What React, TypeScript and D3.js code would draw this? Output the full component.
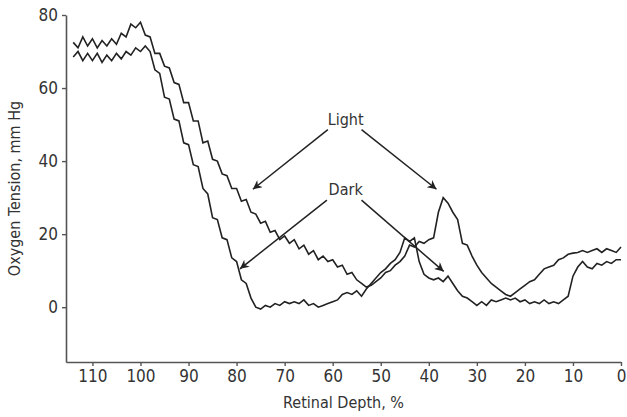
import { useEffect, useRef } from 'react';
import * as d3 from 'd3';

const width = 627;
const height = 417;
const margin = { top: 15, right: 6, bottom: 55, left: 66 };

// retinal depth, % (one sample per percent)
const depth = [
  114, 113, 112, 111, 110, 109, 108, 107, 106, 105, 104, 103, 102, 101, 100,
  99, 98, 97, 96, 95, 94, 93, 92, 91, 90, 89, 88, 87, 86, 85, 84, 83, 82, 81, 80,
  79, 78, 77, 76, 75, 74, 73, 72, 71, 70, 69, 68, 67, 66, 65, 64, 63, 62, 61, 60,
  59, 58, 57, 56, 55, 54, 53, 52, 51, 50, 49, 48, 47, 46, 45, 44, 43, 42, 41, 40,
  39, 38, 37, 36, 35, 34, 33, 32, 31, 30, 29, 28, 27, 26, 25, 24, 23, 22, 21, 20,
  19, 18, 17, 16, 15, 14, 13, 12, 11, 10, 9, 8, 7, 6, 5, 4, 3, 2, 1, 0,
];

// oxygen tension, mm Hg
const light = [
  72.5, 71, 74, 71.5, 73.5, 71, 73, 71.5, 73.5, 72, 75, 74, 77.5, 76.5, 78,
  74.5, 74, 69.5, 69.5, 66, 65.5, 61.5, 61, 56, 56, 51, 51, 45, 45.5, 40.5, 40, 36.5, 36, 32.5, 32.5,
  29, 29.5, 26, 25.5, 23, 23.5, 20.5, 21, 18.5, 19.5, 17.5, 18.5, 16, 17, 14.5, 15.5, 13, 14, 12.5, 13,
  11, 11.5, 9, 9.5, 7.5, 6.5, 5.5, 6, 7, 8, 9.5, 10, 11.5, 12.5, 14, 17, 16.5, 18, 17.5, 18.5,
  19, 26, 30, 28.5, 26, 24, 17.5, 17, 14, 11.5, 9.5, 8, 6.5, 5.5, 4.5, 3.5, 3, 4, 5, 6,
  7, 7.5, 9, 10.5, 11, 11.5, 13, 13.5, 14.5, 14.8, 15, 15.5, 15, 15.5, 16, 15, 16, 15.5, 15, 16.5,
];

const dark = [
  68.5, 70, 67.5, 69.5, 67.5, 69.5, 67, 69, 67.5, 69.5, 68, 70, 69, 71, 70,
  71.5, 70, 65, 64, 57.5, 57, 51.5, 51, 45, 44.5, 39, 38.5, 32.5, 31, 24.5, 24, 19, 18.5, 13.5, 12.5,
  7.5, 6.5, 2.5, 0, -0.5, 0.5, 0, 1, 0.5, 1.5, 1, 1.5, 1, 2, 0.5, 1, 0, 0.5, 1, 1.5,
  2, 3.5, 4, 3.5, 4.5, 3, 5, 6.5, 8, 9.5, 10.5, 12, 13, 15, 19, 18, 19, 12.5, 9, 8,
  7.5, 8, 7, 8.5, 6.5, 4.5, 3, 2.5, 1.5, 0.5, 1.5, 0.5, 2, 1.5, 2, 2.5, 2, 2.5, 1.5, 2,
  1, 1.5, 1, 2, 1, 1.5, 1, 2, 3, 8.5, 11, 12.5, 11, 10.5, 12, 11.5, 12.5, 12, 13, 13,
];

const xTicks = [110, 100, 90, 80, 70, 60, 50, 40, 30, 20, 10, 0];
const yTicks = [0, 20, 40, 60, 80];

// annotation labels and arrows, in data units (depth, mm Hg)
const notes = [
  { text: 'Light', at: [57.3, 51.5], from: [[61, 48.6], [54, 48.6]], to: [[76.6, 32.3], [38.4, 32.3]] },
  { text: 'Dark', at: [57.3, 32.3], from: [[61.2, 29.3], [54, 29.3]], to: [[79.3, 10.5], [36.9, 9.8]] },
];

const font = "'Liberation Sans Narrow', 'Arial Narrow', 'DejaVu Sans Condensed', sans-serif";

const App = () => {
  const ref = useRef<SVGSVGElement>(null);

  useEffect(() => {
    const svg = d3.select(ref.current);
    svg.selectAll('*').remove();

    const x = d3.scaleLinear().domain([115.5, 0]).range([margin.left, width - margin.right]);
    const y = d3.scaleLinear().domain([-15, 80]).range([height - margin.bottom, margin.top]);

    svg.append('defs').append('marker')
      .attr('id', 'head')
      .attr('viewBox', '0 0 10 10')
      .attr('refX', 10).attr('refY', 5)
      .attr('markerWidth', 13).attr('markerHeight', 9)
      .attr('markerUnits', 'userSpaceOnUse')
      .attr('orient', 'auto')
      .append('path')
      .attr('d', 'M0,0 L10,5 L0,10 L3,5 Z')
      .attr('fill', '#222');

    // axes
    const xAxis = svg.append('g')
      .attr('transform', `translate(0,${height - margin.bottom})`)
      .call(d3.axisBottom(x).tickValues(xTicks).tickSize(4).tickSizeOuter(0).tickPadding(4));
    const yAxis = svg.append('g')
      .attr('transform', `translate(${margin.left},0)`)
      .call(d3.axisLeft(y).tickValues(yTicks).tickSize(4).tickSizeOuter(0).tickPadding(4));

    [xAxis, yAxis].forEach(g => {
      g.select('.domain').attr('stroke', '#555').attr('stroke-width', 1.6);
      g.selectAll('.tick line').attr('stroke', '#555').attr('stroke-width', 1.4);
      g.selectAll('.tick text')
        .attr('fill', '#333')
        .style('font-family', font)
        .style('font-size', '17px');
    });

    svg.append('text')
      .attr('x', (margin.left + width - margin.right) / 2)
      .attr('y', 408)
      .attr('text-anchor', 'middle')
      .attr('fill', '#333')
      .style('font-family', font)
      .style('font-size', '16px')
      .text('Retinal Depth, %');

    svg.append('text')
      .attr('transform', `translate(20,${(margin.top + height - margin.bottom) / 2}) rotate(-90)`)
      .attr('text-anchor', 'middle')
      .attr('fill', '#333')
      .style('font-family', font)
      .style('font-size', '16px')
      .text('Oxygen Tension, mm Hg');

    // traces
    const line = d3.line<number>()
      .x((_, i) => x(depth[i]))
      .y(d => y(d));

    [light, dark].forEach(series => {
      svg.append('path')
        .datum(series)
        .attr('d', line)
        .attr('fill', 'none')
        .attr('stroke', '#222')
        .attr('stroke-width', 1.6)
        .attr('stroke-linejoin', 'miter');
    });

    // annotations
    notes.forEach(n => {
      svg.append('text')
        .attr('x', x(n.at[0]))
        .attr('y', y(n.at[1]))
        .attr('dy', '0.35em')
        .attr('text-anchor', 'middle')
        .attr('fill', '#333')
        .style('font-family', font)
        .style('font-size', '16px')
        .text(n.text);
      n.from.forEach((f, i) => {
        svg.append('line')
          .attr('x1', x(f[0])).attr('y1', y(f[1]))
          .attr('x2', x(n.to[i][0])).attr('y2', y(n.to[i][1]))
          .attr('stroke', '#222')
          .attr('stroke-width', 1.5)
          .attr('marker-end', 'url(#head)');
      });
    });
  }, []);

  return (
    <svg ref={ref} width={width} height={height}
      style={{ position: 'absolute', left: 0, top: 0, background: '#fff' }} />
  );
};

export default App;
